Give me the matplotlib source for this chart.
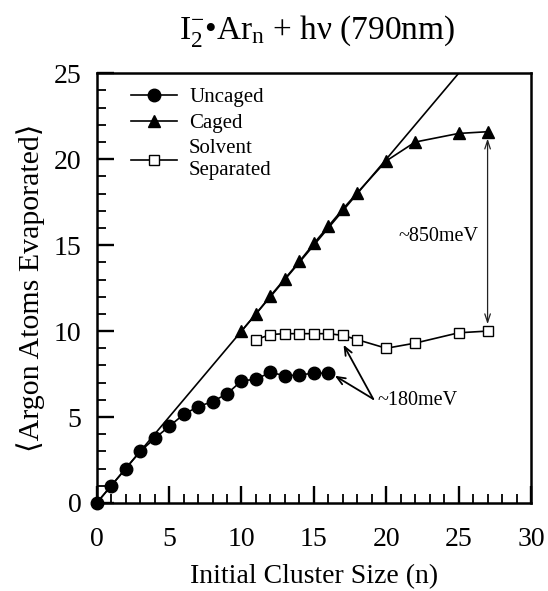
#!/usr/bin/env python3
"""
Argon atoms evaporated vs initial cluster size for I2-.Ar_n + hv (790 nm).
Output: out.png
"""
import matplotlib
matplotlib.use("Agg")
import matplotlib.pyplot as plt
from matplotlib.ticker import MultipleLocator

# data
uncaged_n = list(range(0, 17))
uncaged_y = [0.0, 1.0, 2.0, 3.0, 3.75, 4.45, 5.15, 5.6, 5.9, 6.35,
             7.1, 7.2, 7.6, 7.4, 7.45, 7.55, 7.55]

caged_n = [10, 11, 12, 13, 14, 15, 16, 17, 18, 20, 22, 25, 27]
caged_y = [10.0, 11.0, 12.05, 13.05, 14.05, 15.1, 16.1, 17.1, 18.05,
           19.9, 21.0, 21.5, 21.6]

solvent_n = [11, 12, 13, 14, 15, 16, 17, 18, 20, 22, 25, 27]
solvent_y = [9.5, 9.8, 9.85, 9.85, 9.85, 9.85, 9.75, 9.5, 9.0, 9.3, 9.9, 10.0]

diag_n = [0, 30]
diag_y = [0, 30]

SERIF = ["Liberation Serif", "DejaVu Serif"]


def main():
    plt.rcParams["font.family"] = SERIF
    plt.rcParams["mathtext.fontset"] = "custom"
    plt.rcParams["mathtext.rm"] = "Liberation Serif"
    plt.rcParams["mathtext.it"] = "Liberation Serif:italic"

    fig = plt.figure(figsize=(5.48, 5.91), dpi=100)
    ax = fig.add_axes([0.1765, 0.149, 0.7925, 0.727])

    ax.plot(diag_n, diag_y, color="black", lw=1.2)
    ax.plot(uncaged_n, uncaged_y, "-o", color="black", lw=1.2, ms=9,
            label="Uncaged", clip_on=False, zorder=4)
    ax.plot(caged_n, caged_y, "-^", color="black", lw=1.2, ms=9,
            label="Caged", zorder=4)
    ax.plot(solvent_n, solvent_y, "-s", color="black", mfc="white", mew=1.0,
            lw=1.2, ms=7.5, label="Solvent\nSeparated", zorder=4)

    # ~850meV double arrow
    ax.annotate("", xy=(27, 10.4), xytext=(27, 21.2),
                arrowprops=dict(arrowstyle="<->,head_length=0.6,head_width=0.2",
                                color="#222222", lw=0.9, shrinkA=0, shrinkB=0))
    ax.text(26.4, 15.5, "~850meV", ha="right", va="center", fontsize=14.5)

    # ~180meV arrows
    for head in [(16.45, 7.4), (17.05, 9.2)]:
        ax.annotate("", xy=head, xytext=(19.1, 6.05),
                    arrowprops=dict(arrowstyle="->,head_length=0.6,head_width=0.25",
                                    color="black", lw=1.3, shrinkA=0, shrinkB=0))
    ax.text(19.4, 5.95, "~180meV", ha="left", va="center", fontsize=14.5)

    ax.set_xlim(0, 30)
    ax.set_ylim(0, 25)
    ax.xaxis.set_major_locator(MultipleLocator(5))
    ax.xaxis.set_minor_locator(MultipleLocator(1))
    ax.yaxis.set_major_locator(MultipleLocator(5))
    ax.yaxis.set_minor_locator(MultipleLocator(1))
    ax.tick_params(which="major", direction="in", length=12, width=1.7,
                   labelsize=20)
    ax.tick_params(which="minor", direction="in", length=6.5, width=1.3)
    ax.tick_params(axis="x", which="major", pad=17)
    ax.tick_params(axis="y", which="major", pad=11)
    for spine in ax.spines.values():
        spine.set_linewidth(1.8)

    ax.set_xlabel("Initial Cluster Size (n)", fontsize=20, labelpad=9)
    ax.set_ylabel("\u27e8Argon Atoms Evaporated\u27e9", fontsize=21.5, labelpad=6)
    fig.text(0.578, 0.947, r"I$_2^{-}$•Ar$_\mathrm{n}$ + hν (790nm)",
             ha="center", va="center", fontsize=24)

    ax.legend(loc="upper left", frameon=False, fontsize=15,
              handlelength=2.2, borderaxespad=0.5, labelspacing=0.3,
              handletextpad=0.6, bbox_to_anchor=(0.035, 1.01))

    fig.savefig("out.png", dpi=100)
    plt.close(fig)


if __name__ == "__main__":
    main()
